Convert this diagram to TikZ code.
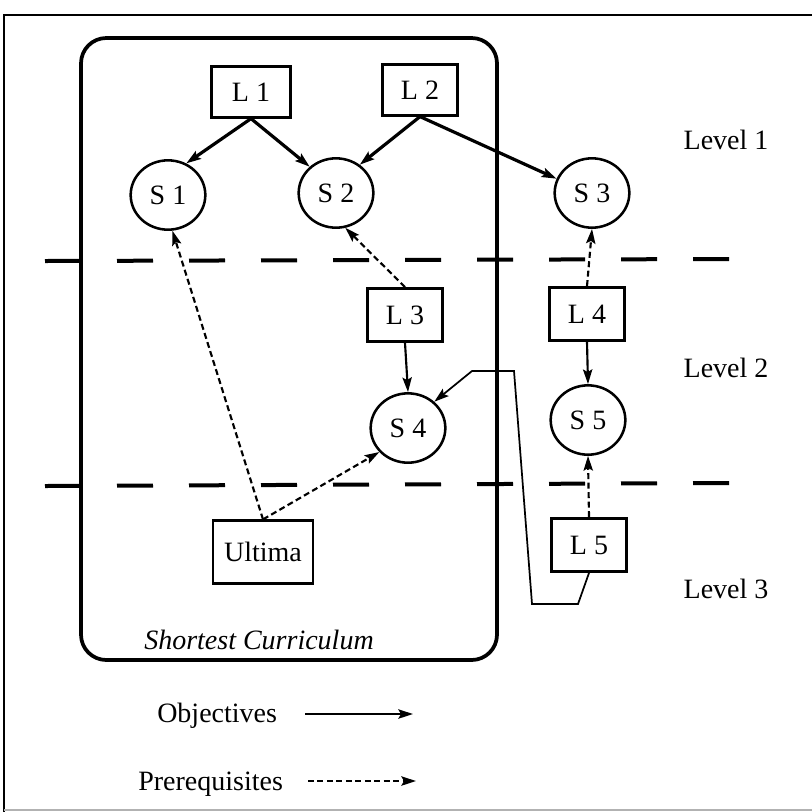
\documentclass[tikz,border=0pt]{standalone}
\usepackage{fontspec}
\setmainfont{Liberation Serif}
\usetikzlibrary{arrows.meta,shapes.geometric}

\tikzset{
  lesson/.style={draw, line width=1.9pt, rectangle, minimum width=56pt, minimum height=40pt, inner sep=0pt, font=\fontsize{21}{24}\selectfont},
  skill/.style={draw, line width=1.9pt, ellipse, minimum width=56pt, minimum height=52pt, inner sep=0pt, font=\fontsize{21}{24}\selectfont},
  lbl/.style={font=\fontsize{21}{24}\selectfont, inner sep=0pt},
  tip/.style={-{Stealth[length=11pt,width=7pt,inset=2pt]}},
  objective/.style={tip, line width=2.4pt},
  objthin/.style={tip, line width=1.6pt},
  prereq/.style={tip, line width=1.6pt, dash pattern=on 4.5pt off 2.6pt},
  levelsep/.style={line width=3pt, dash pattern=on 27pt off 27pt},
}

\begin{document}
\begin{tikzpicture}[x=0.75pt,y=-0.75pt]
  \useasboundingbox (0,0) rectangle (812,811);

  % outer frame
  \draw[line width=1.8pt] (4,820) -- (4,15) -- (830,15);
  \draw[line width=0.8pt, gray!60] (4,810) -- (830,810);

  % shortest curriculum region
  \draw[line width=2.8pt, rounded corners=19pt] (81,38) rectangle (497,660);
  \node[font=\fontsize{21}{24}\selectfont\itshape, inner sep=0pt] (sc) at (259,640) {Shortest Curriculum};

  % level separators
  \draw[levelsep] (45,261) -- (729,259);
  \draw[levelsep] (45,486) -- (729,483);

  % level labels
  \node[lbl] (lev1) at (726,140) {Level 1};
  \node[lbl] (lev2) at (726,368) {Level 2};
  \node[lbl] (lev3) at (726,589) {Level 3};

  % lessons
  \node[lesson, minimum width=59pt, minimum height=38pt] (L1) at (251,92) {L 1};
  \node[lesson, minimum height=38pt] (L2) at (420,90) {L 2};
  \node[lesson] (L3) at (405,315) {L 3};
  \node[lesson] (L4) at (587,314) {L 4};
  \node[lesson] (L5) at (589,545) {L 5};
  \node[lesson, minimum width=75pt, minimum height=47pt] (U) at (263,552) {Ultima};

  % skills
  \node[skill] (S1) at (168,195) {S 1};
  \node[skill] (S2) at (336,193) {S 2};
  \node[skill] (S3) at (592,193) {S 3};
  \node[skill] (S4) at (408,428) {S 4};
  \node[skill] (S5) at (588,420) {S 5};

  % objectives
  \draw[objective] (L1.south) -- (S1.60);
  \draw[objective] (L1.south) -- (S2.135);
  \draw[objective] (L2.south) -- (S2.50);
  \draw[objective] (L2.south) -- (S3.158);
  \draw[objthin] (L3.south) -- (S4.north);
  \draw[objthin] (L4.south) -- (S5.north);

  % L5 reaches back to S4
  \coordinate (b1) at (578,604);
  \coordinate (b2) at (532,604);
  \coordinate (b3) at (514,371);
  \coordinate (b4) at (472,371);
  \draw[tip, line width=1.3pt] (L5.south) -- (b1) -- (b2) -- (b3) -- (b4) -- (S4.45);

  % prerequisites
  \draw[prereq] (L3.north) -- (S2.-75);
  \draw[prereq] (L4.north) -- (S3.south);
  \draw[prereq] (L5.north) -- (S5.south);
  \draw[prereq] (U.north) -- (S1.-83);
  \draw[prereq] (U.north) -- (S4.220);

  % legend
  \node[lbl, anchor=west] (objtxt) at (157,716) {Objectives};
  \coordinate (o1) at (305,714);
  \coordinate (o2) at (413,714);
  \draw[tip, line width=1.6pt] (o1) -- (o2);
  \node[lbl, anchor=west] (pretxt) at (138,784) {Prerequisites};
  \coordinate (p1) at (308,781);
  \coordinate (p2) at (416,781);
  \draw[prereq] (p1) -- (p2);
\end{tikzpicture}
\end{document}
